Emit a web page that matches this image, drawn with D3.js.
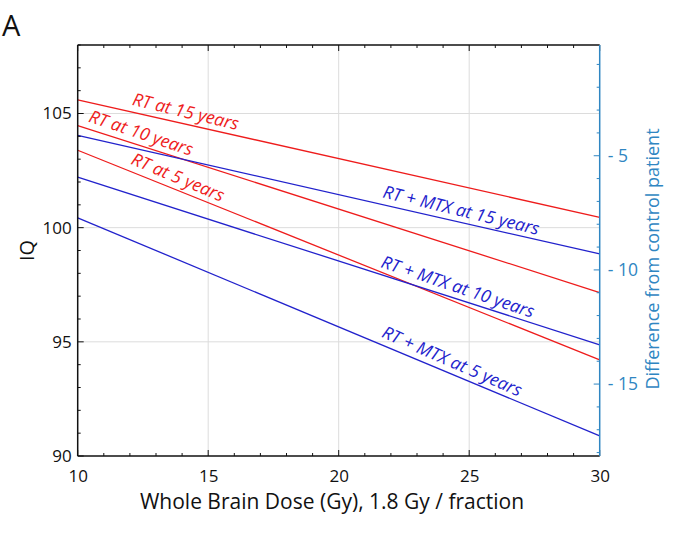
<!DOCTYPE html>
<html><head><meta charset="utf-8">
<script src="https://cdn.jsdelivr.net/npm/d3@7"></script>
<style>body{margin:0;background:#fff}svg{display:block}text{font-family:"Open Sans","DejaVu Sans",sans-serif}</style>
</head><body><svg id="c" width="680" height="535"></svg>
<script>
const doses = [10, 30];
const seriesNames = ["RT at 15 years","RT at 10 years","RT at 5 years","RT + MTX at 15 years","RT + MTX at 10 years","RT + MTX at 5 years"];
const rt15 = [105.6, 100.45];
const rt10 = [104.47, 97.16];
const rt5 = [103.39, 94.21];
const mtx15 = [104.04, 98.85];
const mtx10 = [102.21, 94.87];
const mtx5 = [100.43, 90.88];
const seriesGroup = ["RT","RT","RT","MTX","MTX","MTX"];
const labelDose = [12.0, 10.3, 11.9, 21.6, 21.5, 21.5];
const xTicks = [10, 15, 20, 25, 30];
const yTicks = [90, 95, 100, 105];
const diffTicks = [-5, -10, -15];
const controlIQ = 108.15;

const values = [rt15, rt10, rt5, mtx15, mtx10, mtx5];
const colors = {RT: "#ee1c1c", MTX: "#2222cc"};
const axisBlue = "#2f86c2";

const svg = d3.select("#c");
const L = 77.7, R = 599.7, T = 45, B = 456;
const x = d3.scaleLinear().domain([10, 30]).range([L, R]);
const y = d3.scaleLinear().domain([90, 108]).range([B, T]);
const yd = d3.scaleLinear().domain([90 - controlIQ, 108 - controlIQ]).range([B, T]);

// grid
const g = svg.append("g");
g.selectAll(".gx").data([15, 20, 25]).enter().append("line")
  .attr("x1", d => x(d)).attr("x2", d => x(d)).attr("y1", T).attr("y2", B)
  .attr("stroke", "#dcdcdc").attr("stroke-width", 1);
g.selectAll(".gy").data([95, 100, 105]).enter().append("line")
  .attr("y1", d => y(d)).attr("y2", d => y(d)).attr("x1", L).attr("x2", R)
  .attr("stroke", "#dcdcdc").attr("stroke-width", 1);

// lines
const line = d3.line().x((d, i) => x(doses[i])).y(d => y(d));
values.forEach((v, k) => {
  svg.append("path").attr("d", line(v)).attr("fill", "none")
    .attr("stroke", colors[seriesGroup[k]]).attr("stroke-width", 1.3);
  const d0 = labelDose[k];
  const iq = v[0] + (v[1] - v[0]) * (d0 - doses[0]) / (doses[1] - doses[0]);
  const px = x(d0), py = y(iq);
  const ang = Math.atan2(y(v[1]) - y(v[0]), x(doses[1]) - x(doses[0])) * 180 / Math.PI;
  svg.append("text")
    .attr("transform", `translate(${px},${py}) rotate(${ang + 0.8}) translate(0,-7)`)
    .attr("fill", colors[seriesGroup[k]]).attr("font-size", 17.5).attr("font-style", "italic")
    .text(seriesNames[k]);
});

// axes
const minorX = d3.range(10, 31, 1);
const minorY = d3.range(90, 109, 1);
const minorD = d3.range(-18, 0, 1);
// bottom
const bx = svg.append("g").attr("transform", `translate(0,${B})`)
  .call(d3.axisBottom(x).tickValues(xTicks).tickSize(0).tickPadding(14).tickFormat(d3.format("d")));
bx.select(".domain").remove();
bx.selectAll("text").attr("font-size", 17).attr("fill", "#111").attr("font-family", "'Open Sans',sans-serif");
svg.append("g").selectAll("line").data(minorX).enter().append("line")
  .attr("x1", d => x(d)).attr("x2", d => x(d)).attr("y1", B)
  .attr("y2", d => B - (d % 5 === 0 ? 6 : 3)).attr("stroke", "#111");
// top ticks
svg.append("g").selectAll("line").data(minorX).enter().append("line")
  .attr("x1", d => x(d)).attr("x2", d => x(d)).attr("y1", T)
  .attr("y2", d => T + (d % 5 === 0 ? 6 : 3)).attr("stroke", "#111");
// left
const ly = svg.append("g").attr("transform", `translate(${L},0)`)
  .call(d3.axisLeft(y).tickValues(yTicks).tickSize(0).tickPadding(6).tickFormat(d3.format("d")));
ly.select(".domain").remove();
ly.selectAll("text").attr("font-size", 17).attr("fill", "#111").attr("font-family", "'Open Sans',sans-serif");
svg.append("g").selectAll("line").data(minorY).enter().append("line")
  .attr("y1", d => y(d)).attr("y2", d => y(d)).attr("x1", L)
  .attr("x2", d => L + (d % 5 === 0 ? 6 : 3)).attr("stroke", "#111");
// right
const ry = svg.append("g").attr("transform", `translate(${R},0)`)
  .call(d3.axisRight(yd).tickValues(diffTicks).tickSize(0).tickPadding(8).tickFormat(d => "- " + Math.abs(d)));
ry.select(".domain").remove();
ry.selectAll("text").attr("font-size", 17.5).attr("fill", axisBlue).attr("font-family", "'Open Sans',sans-serif");
svg.append("g").selectAll("line").data(minorD).enter().append("line")
  .attr("y1", d => yd(d)).attr("y2", d => yd(d)).attr("x1", R)
  .attr("x2", d => R - (d % 5 === 0 ? 6 : 3)).attr("stroke", axisBlue);

// frame
svg.append("line").attr("x1", L).attr("x2", R).attr("y1", B).attr("y2", B).attr("stroke", "#111").attr("stroke-width", 1.5);
svg.append("line").attr("x1", L).attr("x2", R).attr("y1", T).attr("y2", T).attr("stroke", "#111").attr("stroke-width", 1.5);
svg.append("line").attr("x1", L).attr("x2", L).attr("y1", T).attr("y2", B).attr("stroke", "#111").attr("stroke-width", 1.5);
svg.append("line").attr("x1", R).attr("x2", R).attr("y1", T).attr("y2", B).attr("stroke", axisBlue).attr("stroke-width", 1.5);

// titles
svg.append("text").attr("x", 332).attr("y", 509).attr("text-anchor", "middle")
  .attr("font-size", 21).attr("fill", "#111").text("Whole Brain Dose (Gy), 1.8 Gy / fraction");
svg.append("text").attr("transform", `translate(34,${y(99)}) rotate(-90)`).attr("text-anchor", "middle")
  .attr("font-size", 20).attr("fill", "#111").text("IQ");
svg.append("text").attr("transform", `translate(659,259) rotate(-90)`).attr("text-anchor", "middle")
  .attr("font-size", 18).attr("fill", axisBlue).text("Difference from control patient");
svg.append("text").attr("x", 2).attr("y", 36).attr("font-size", 29).attr("fill", "#111").text("A");
</script></body></html>
